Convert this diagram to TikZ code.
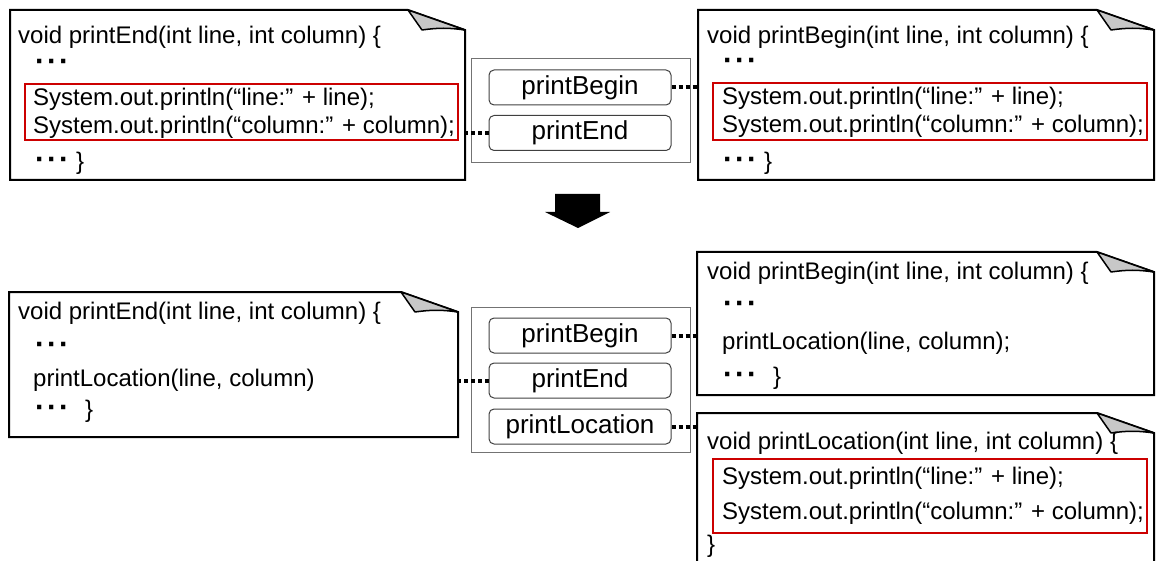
\documentclass[tikz,border=0pt]{standalone}
\usepackage{fontspec}
\setmainfont{Liberation Sans}
\usetikzlibrary{positioning,calc}
\definecolor{hlred}{RGB}{204,0,0}
\definecolor{foldgray}{RGB}{200,200,200}
\newcommand{\dd}{{\fontsize{30}{30}\selectfont\bfseries ·\hspace{2pt}·\hspace{2pt}·}}
\newcommand{\dogear}[1]{%
  \draw[pageline] (#1.south west) -- (#1.north west) -- ([xshift=-57pt]#1.north east)
    -- ([yshift=-20pt]#1.north east) -- (#1.south east) -- cycle;
  \filldraw[foldline] ([xshift=-57pt]#1.north east) -- ([xshift=-43pt,yshift=-20pt]#1.north east)
    to[bend left=8] ([yshift=-20pt]#1.north east) -- cycle;}

\begin{document}
\begin{tikzpicture}[x=1pt,y=-1pt,
  page/.style={rectangle,inner sep=0pt,outer sep=0pt},
  pageline/.style={line width=2pt,line join=miter},
  foldline/.style={line width=1.5pt,fill=foldgray,line join=round},
  code/.style={anchor=west,inner sep=0pt,font=\fontsize{24}{28}\selectfont},
  hlbox/.style={rectangle,draw=hlred,line width=2pt,inner sep=0pt},
  tray/.style={rectangle,draw=black!55,line width=1pt,inner sep=0pt,minimum width=219pt},
  func/.style={rectangle,draw=black!75,rounded corners=5pt,line width=1pt,minimum width=182pt,
               minimum height=35pt,inner sep=0pt,font=\fontsize{26}{30}\selectfont},
  link/.style={line width=4pt,dash pattern=on 4pt off 3pt}
]
\path[use as bounding box] (0,0) rectangle (1156,561);
\clip (0,0) rectangle (1156,561);

% before
\node[page,minimum width=455pt,minimum height=170pt] (endold) at (237.5,95) {};
\dogear{endold}
\node[hlbox,minimum width=433pt,minimum height=56pt] (endhl) at (241.5,112) {};
\node[code] (endsig)  at (18,37)  {void printEnd(int line, int column) \{};
\node[code] (enddot)  at (35,65)  {\dd};
\node[code] (endln)   at (33,99)  {System.out.println(“line:” + line);};
\node[code] (endcol)  at (33,127) {System.out.println(“column:” + column);};
\node[code] (endtail) at (35,163) {\dd\hspace{7pt}\}};

\node[page,minimum width=456pt,minimum height=170pt] (beginold) at (926,95) {};
\dogear{beginold}
\node[hlbox,minimum width=434pt,minimum height=57pt] (beginhl) at (930,111.5) {};
\node[code] (beginsig)  at (707,37)  {void printBegin(int line, int column) \{};
\node[code] (begindot)  at (723,64)  {\dd};
\node[code] (beginln)   at (722,98)  {System.out.println(“line:” + line);};
\node[code] (begincol)  at (722,126) {System.out.println(“column:” + column);};
\node[code] (begintail) at (723,163) {\dd\hspace{7pt}\}};

\node[tray,minimum height=104pt] (trayold) at (580.5,111) {};
\node[func] (pbold) at (580,87.5) {printBegin};
\node[func] (peold) at (580,133)  {printEnd};

\draw[link] (pbold.east) -- (pbold.east -| beginold.west);
\draw[link] (peold.west) -- (peold.west -| endold.east);

% step
\fill (555,194) -- (600,194) -- (600,212) -- (610,212) -- (578,228) -- (545,212) -- (555,212) -- cycle;

% after
\node[page,minimum width=449pt,minimum height=145pt] (endnew) at (233.5,364.5) {};
\dogear{endnew}
\node[code] (nendsig)  at (18,313) {void printEnd(int line, int column) \{};
\node[code] (nenddot)  at (35,348) {\dd};
\node[code] (nendcall) at (33,380) {printLocation(line, column)};
\node[code] (nendtail) at (35,411) {\dd\hspace{16pt}\}};

\node[page,minimum width=457pt,minimum height=143pt] (beginnew) at (925.5,323.5) {};
\dogear{beginnew}
\node[code] (nbeginsig)  at (707,273) {void printBegin(int line, int column) \{};
\node[code] (nbegindot)  at (723,307) {\dd};
\node[code] (nbegincall) at (722,343) {printLocation(line, column);};
\node[code] (nbegintail) at (723,378) {\dd\hspace{16pt}\}};

\node[page,minimum width=457pt,minimum height=177pt] (locnew) at (925.5,501.5) {};
\dogear{locnew}
\node[hlbox,minimum width=434pt,minimum height=74pt] (lochl) at (930,496) {};
\node[code] (locsig)  at (707,443) {void printLocation(int line, int column) \{};
\node[code] (locln)   at (722,478) {System.out.println(“line:” + line);};
\node[code] (loccol)  at (722,513) {System.out.println(“column:” + column);};
\node[code] (loctail) at (707,546) {\}};

\node[tray,minimum height=145pt] (traynew) at (580.5,379.5) {};
\node[func] (pbnew) at (580,335.5) {printBegin};
\node[func] (penew) at (580,380.5) {printEnd};
\node[func] (plnew) at (580,426.5) {printLocation};

\draw[link] (pbnew.east) -- (pbnew.east -| beginnew.west);
\draw[link] (penew.west) -- (penew.west -| endnew.east);
\draw[link] (plnew.east) -- (plnew.east -| locnew.west);
\end{tikzpicture}
\end{document}
